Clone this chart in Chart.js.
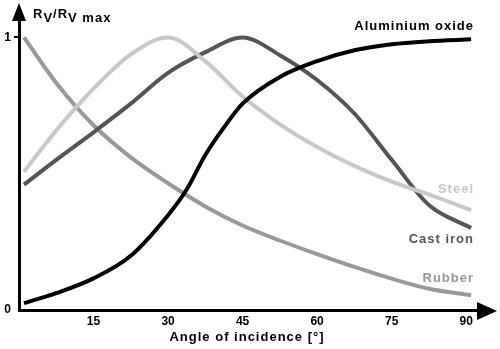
<!DOCTYPE html>
<html>
<head>
<meta charset="utf-8">
<script src="https://cdn.jsdelivr.net/npm/chart.js@4.4.1/dist/chart.umd.min.js"></script>
<style>
  html, body { margin: 0; padding: 0; background: #fff; }
  canvas { display: block; }
</style>
</head>
<body>
<canvas id="chart" width="500" height="349"></canvas>
<script>
// angle of incidence [°] and relative value for each material
const angles = [1, 7.5, 15, 22.5, 30, 37.5, 45, 52.5, 60, 67.5, 75, 82.5, 91];
const aluminiumAngle = [1, 7.5, 15, 22.5, 30, 33.75, 37.5, 41.25, 45, 52.5, 60, 67.5, 75, 82.5, 91];
const aluminiumValue = [0.025, 0.062, 0.116, 0.199, 0.348, 0.442, 0.569, 0.670, 0.757, 0.855, 0.913, 0.953, 0.975, 0.986, 0.993];
const steelValue = [0.507, 0.659, 0.812, 0.938, 1.0, 0.913, 0.783, 0.681, 0.598, 0.529, 0.471, 0.424, 0.366];
const castIronValue = [0.46, 0.551, 0.652, 0.757, 0.87, 0.946, 1.0, 0.935, 0.844, 0.721, 0.551, 0.385, 0.301];
const rubberValue = [1.0, 0.833, 0.678, 0.56, 0.465, 0.38, 0.31, 0.255, 0.205, 0.158, 0.115, 0.078, 0.054];

const xTicks = [15, 30, 45, 60, 75, 90];
const yTicks = [0, 1];

const FONT = '"Liberation Sans", Arial, sans-serif';

function series(xs, values) {
    return xs.map((a, i) => ({ x: a, y: values[i] }));
}

const materials = [
    { label: 'Aluminium oxide', data: series(aluminiumAngle, aluminiumValue), color: '#000000', textY: 30 },
    { label: 'Steel', data: series(angles, steelValue), color: '#c8c8c8', textY: 193 },
    { label: 'Cast iron', data: series(angles, castIronValue), color: '#555555', textY: 243 },
    { label: 'Rubber', data: series(angles, rubberValue), color: '#999999', textY: 282 }
];

const decorations = {
    id: 'decorations',
    afterDraw(chart) {
        const ctx = chart.ctx;
        const area = chart.chartArea;
        ctx.save();
        ctx.fillStyle = '#000';

        // arrow heads
        ctx.beginPath();
        ctx.moveTo(area.left, 3);
        ctx.lineTo(area.left - 7, 21);
        ctx.lineTo(area.left + 7, 21);
        ctx.closePath();
        ctx.fill();

        ctx.beginPath();
        ctx.moveTo(497, area.bottom + 1);
        ctx.lineTo(477, area.bottom - 8);
        ctx.lineTo(477, area.bottom + 10);
        ctx.closePath();
        ctx.fill();

        if ('letterSpacing' in ctx) ctx.letterSpacing = '1px';

        // y axis title RV/RV max
        ctx.textAlign = 'left';
        ctx.textBaseline = 'alphabetic';
        ctx.font = 'bold 13px ' + FONT;
        let x = 33;
        const parts = [['R', 18], ['V', 22], ['/R', 18], ['V max', 22]];
        parts.forEach(p => {
            ctx.fillText(p[0], x, p[1]);
            x += ctx.measureText(p[0]).width;
        });

        // x axis title
        ctx.textAlign = 'center';
        ctx.font = 'bold 13px ' + FONT;
        ctx.fillText('Angle of incidence [°]', 247, 341);

        // series labels
        ctx.textAlign = 'right';
        materials.forEach(m => {
            ctx.fillStyle = m.color;
            ctx.fillText(m.label, 474, m.textY);
        });
        ctx.restore();
    }
};

const tickFont = { family: FONT, size: 12, weight: 'bold' };

new Chart(document.getElementById('chart'), {
    type: 'line',
    data: {
        datasets: materials.map(m => ({
            label: m.label,
            data: m.data,
            borderColor: m.color,
            borderWidth: 4,
            pointRadius: 0,
            fill: false,
            cubicInterpolationMode: 'monotone'
        }))
    },
    options: {
        responsive: false,
        animation: false,
        layout: { padding: { top: 6, right: 8, left: 0, bottom: 0 } },
        plugins: {
            legend: { display: false },
            tooltip: { enabled: false }
        },
        scales: {
            x: {
                type: 'linear',
                min: 0,
                max: 95.2,
                afterBuildTicks: s => { s.ticks = xTicks.map(v => ({ value: v })); },
                grid: { display: false, drawTicks: false },
                border: { display: true, color: '#000', width: 3 },
                ticks: { padding: 4, maxRotation: 0, autoSkip: false, color: '#000', font: tickFont },
                afterFit: s => { s.height = 39; }
            },
            y: {
                min: 0,
                max: 1.1,
                afterBuildTicks: s => { s.ticks = yTicks.map(v => ({ value: v })); },
                grid: {
                    drawOnChartArea: false,
                    drawTicks: true,
                    tickLength: 5,
                    lineWidth: 2,
                    color: c => (c.tick && c.tick.value === 1) ? '#000' : 'rgba(0,0,0,0)'
                },
                border: { display: true, color: '#000', width: 3 },
                ticks: { padding: 3, color: '#000', font: tickFont },
                afterFit: s => { s.width = 19; }
            }
        }
    },
    plugins: [decorations]
});
</script>
</body>
</html>
